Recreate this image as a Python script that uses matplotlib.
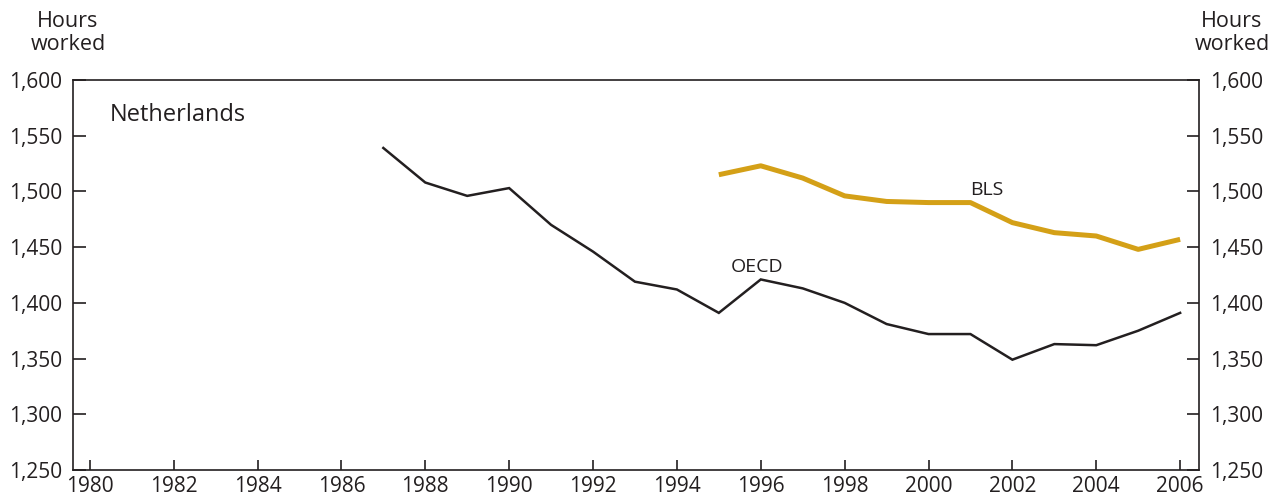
import matplotlib.pyplot as plt
from matplotlib.ticker import FuncFormatter

plt.rcParams['font.family'] = ['Open Sans', 'DejaVu Sans']

# data
oecd_years = list(range(1987, 2007))
oecd_hours = [1539, 1508, 1496, 1503, 1470, 1446, 1419, 1412, 1391, 1421,
              1413, 1400, 1381, 1372, 1372, 1349, 1363, 1362, 1375, 1391]

bls_years = list(range(1995, 2007))
bls_hours = [1515, 1523, 1512, 1496, 1491, 1490, 1490, 1472, 1463, 1460,
             1448, 1457]

year_ticks = list(range(1980, 2007, 2))
hour_ticks = list(range(1250, 1601, 50))

ink = '#231f20'
gold = '#d4a017'

fig = plt.figure(figsize=(12.78, 4.99), dpi=100)
ax = fig.add_axes([73 / 1278, 1 - 470 / 499, 1126 / 1278, 390 / 499])

ax.plot(oecd_years, oecd_hours, color=ink, lw=1.8, solid_joinstyle='miter')
ax.plot(bls_years, bls_hours, color=gold, lw=3.6, solid_capstyle='butt')

ax.set_xlim(1979.6, 2006.45)
ax.set_ylim(1250, 1600)
ax.set_xticks(year_ticks)
ax.set_yticks(hour_ticks)
ax.yaxis.set_major_formatter(FuncFormatter(lambda v, p: f'{int(v):,}'))

for s in ax.spines.values():
    s.set_color(ink)
    s.set_linewidth(1.2)

ax.tick_params(axis='both', direction='in', width=1.2, color=ink,
               labelsize=15, labelcolor=ink)
ax.tick_params(axis='x', length=7, pad=4)
ax.tick_params(axis='y', length=9, left=True, right=True, labelleft=True,
               labelright=True, pad=8)

fig.text(110 / 1278, 1 - 115 / 499, 'Netherlands', fontsize=17, color=ink,
         va='center', ha='left')
ax.text(2001.4, 1493, 'BLS', fontsize=14, color=ink, ha='center', va='bottom')
ax.text(1995.9, 1424, 'OECD', fontsize=14, color=ink, ha='center', va='bottom')

fig.text(68 / 1278, 1 - 33 / 499, 'Hours\nworked', ha='center', va='center',
         fontsize=15.5, color=ink, linespacing=1.1)
fig.text(1232 / 1278, 1 - 33 / 499, 'Hours\nworked', ha='center', va='center',
         fontsize=15.5, color=ink, linespacing=1.1)

fig.savefig('out.png', dpi=100)
